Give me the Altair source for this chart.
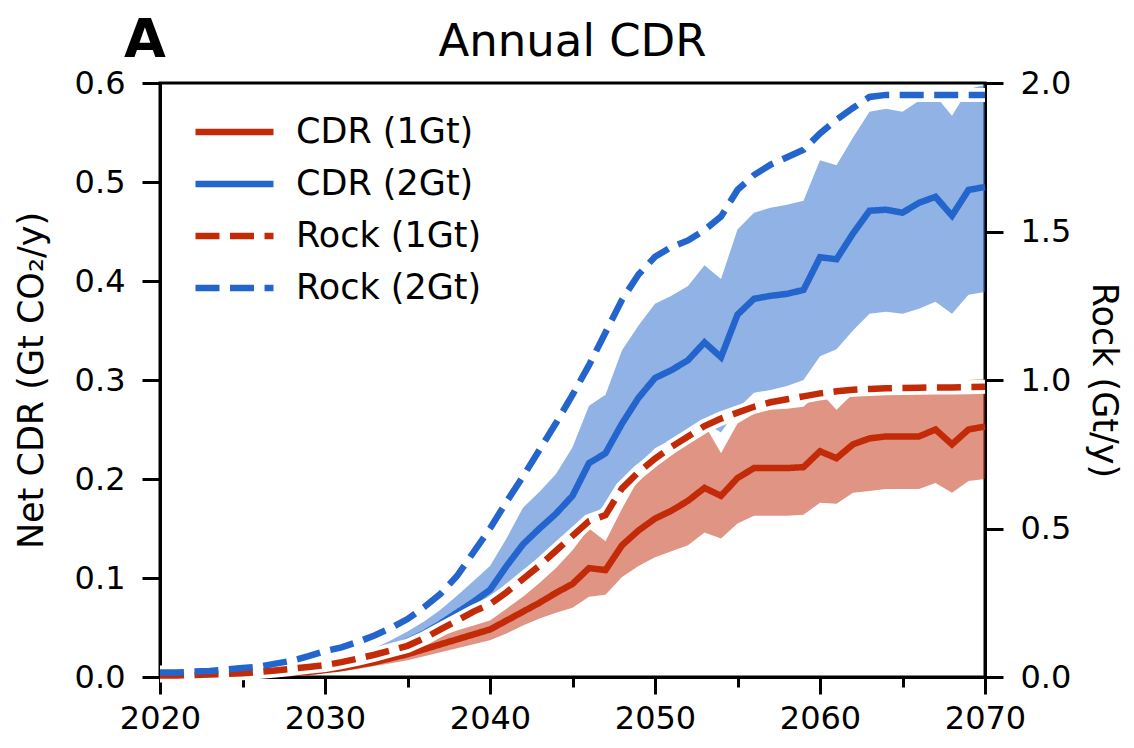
import altair as alt
import pandas as pd

years = list(range(2020, 2071))

cdr_1gt = [0.001, 0.001, 0.001, 0.001, 0.002, 0.002, 0.003, 0.003, 0.004, 0.005,
           0.007, 0.009, 0.012, 0.015, 0.019, 0.023, 0.028, 0.033, 0.038, 0.043,
           0.048, 0.057, 0.066, 0.075, 0.085, 0.094, 0.110, 0.108, 0.133, 0.148,
           0.160, 0.168, 0.178, 0.191, 0.183, 0.201, 0.211, 0.211, 0.211, 0.212,
           0.228, 0.221, 0.235, 0.241, 0.243, 0.243, 0.243, 0.250, 0.235, 0.250,
           0.253]
cdr_1gt_lo = [0.000, 0.000, 0.000, 0.000, 0.001, 0.001, 0.001, 0.002, 0.002, 0.003,
              0.004, 0.006, 0.008, 0.011, 0.014, 0.017, 0.021, 0.025, 0.029, 0.033,
              0.037, 0.044, 0.052, 0.059, 0.065, 0.070, 0.081, 0.083, 0.101, 0.112,
              0.121, 0.127, 0.133, 0.146, 0.140, 0.155, 0.163, 0.163, 0.163, 0.164,
              0.176, 0.175, 0.186, 0.188, 0.190, 0.190, 0.190, 0.196, 0.186, 0.198,
              0.200]
cdr_1gt_hi = [0.002, 0.002, 0.002, 0.002, 0.003, 0.003, 0.004, 0.005, 0.006, 0.007,
              0.009, 0.012, 0.015, 0.019, 0.024, 0.029, 0.035, 0.041, 0.047, 0.052,
              0.057, 0.069, 0.081, 0.095, 0.110, 0.128, 0.150, 0.137, 0.170, 0.200,
              0.223, 0.236, 0.246, 0.255, 0.226, 0.256, 0.266, 0.270, 0.271, 0.273,
              0.288, 0.270, 0.286, 0.293, 0.294, 0.293, 0.294, 0.298, 0.286, 0.300,
              0.301]
cdr_2gt = [0.004, 0.004, 0.004, 0.004, 0.004, 0.005, 0.005, 0.006, 0.007, 0.009,
           0.011, 0.014, 0.018, 0.023, 0.029, 0.036, 0.044, 0.054, 0.065, 0.076,
           0.088, 0.112, 0.134, 0.150, 0.165, 0.183, 0.216, 0.226, 0.256, 0.282,
           0.302, 0.310, 0.320, 0.338, 0.323, 0.366, 0.382, 0.385, 0.387, 0.391,
           0.424, 0.422, 0.448, 0.471, 0.472, 0.469, 0.479, 0.485, 0.466, 0.492,
           0.495]
cdr_2gt_lo = [0.003, 0.003, 0.003, 0.003, 0.003, 0.004, 0.004, 0.005, 0.005, 0.007,
              0.008, 0.011, 0.014, 0.018, 0.023, 0.028, 0.035, 0.043, 0.052, 0.061,
              0.070, 0.086, 0.102, 0.115, 0.127, 0.141, 0.160, 0.174, 0.195, 0.215,
              0.231, 0.240, 0.248, 0.257, 0.247, 0.271, 0.287, 0.290, 0.294, 0.300,
              0.324, 0.331, 0.350, 0.367, 0.369, 0.367, 0.372, 0.379, 0.367, 0.386,
              0.389]
cdr_2gt_hi = [0.005, 0.005, 0.005, 0.005, 0.005, 0.006, 0.006, 0.007, 0.009, 0.011,
              0.014, 0.018, 0.023, 0.029, 0.037, 0.046, 0.056, 0.068, 0.082, 0.097,
              0.112, 0.140, 0.171, 0.187, 0.205, 0.232, 0.274, 0.285, 0.330, 0.355,
              0.377, 0.385, 0.395, 0.416, 0.402, 0.452, 0.469, 0.474, 0.477, 0.481,
              0.522, 0.517, 0.545, 0.571, 0.574, 0.571, 0.582, 0.587, 0.567, 0.594,
              0.598]
rock_1gt = [0.005, 0.005, 0.007, 0.008, 0.010, 0.013, 0.017, 0.022, 0.028, 0.034,
            0.040, 0.050, 0.062, 0.075, 0.090, 0.105, 0.130, 0.160, 0.190, 0.220,
            0.245, 0.285, 0.330, 0.375, 0.425, 0.475, 0.525, 0.545, 0.635, 0.690,
            0.735, 0.775, 0.810, 0.845, 0.870, 0.890, 0.910, 0.925, 0.935, 0.945,
            0.955, 0.962, 0.967, 0.970, 0.972, 0.973, 0.974, 0.975, 0.975, 0.976,
            0.977]
rock_2gt = [0.015, 0.015, 0.018, 0.020, 0.025, 0.030, 0.035, 0.045, 0.055, 0.070,
            0.087, 0.100, 0.118, 0.140, 0.165, 0.195, 0.235, 0.280, 0.340, 0.420,
            0.500, 0.590, 0.675, 0.765, 0.855, 0.950, 1.050, 1.160, 1.270, 1.355,
            1.415, 1.448, 1.470, 1.505, 1.550, 1.640, 1.690, 1.725, 1.750, 1.775,
            1.830, 1.876, 1.916, 1.953, 1.960, 1.960, 1.960, 1.960, 1.960, 1.960,
            1.960]

series_names = ["CDR (1Gt)", "CDR (2Gt)", "Rock (1Gt)", "Rock (2Gt)"]
x_major = [2020, 2030, 2040, 2050, 2060, 2070]
x_minor = [2025, 2035, 2045, 2055, 2065]
y_left_ticks = [0.0, 0.1, 0.2, 0.3, 0.4, 0.5, 0.6]
y_right_ticks = [0.0, 0.5, 1.0, 1.5, 2.0]
chart_title = "Annual CDR"
panel_letter = "A"

RED = "#c22a08"
BLUE = "#2365cc"
FONT = "DejaVu Sans"
W, H = 825, 594

bands = pd.DataFrame({
    "year": years,
    "lo1": cdr_1gt_lo, "hi1": cdr_1gt_hi,
    "lo2": cdr_2gt_lo, "hi2": cdr_2gt_hi,
})
cdr_long = pd.DataFrame({
    "year": years * 2,
    "value": cdr_1gt + cdr_2gt,
    "series": [series_names[0]] * len(years) + [series_names[1]] * len(years),
})
rock_long = pd.DataFrame({
    "year": years * 2,
    "value": rock_1gt + rock_2gt,
    "series": [series_names[2]] * len(years) + [series_names[3]] * len(years),
})

x_scale = alt.Scale(domain=[2020, 2070], nice=False, zero=False)
y_cdr_scale = alt.Scale(domain=[0, 0.6], nice=False)
y_rock_scale = alt.Scale(domain=[0, 2.0], nice=False)

common_axis = dict(grid=False, tickColor="black", domainColor="black",
                   labelColor="black", titleColor="black", tickWidth=3,
                   domainWidth=3, labelFont=FONT, titleFont=FONT)

major_x_axis = alt.Axis(values=x_major, format="d", orient="bottom",
                        labelFontSize=32, labelPadding=9, tickSize=17,
                        title=None, labelFlush=False, labelOverlap=False,
                        **common_axis)
minor_x_axis = alt.Axis(values=x_minor, orient="bottom", labels=False,
                        tickSize=10, domain=False, title=None, grid=False,
                        tickColor="black", tickWidth=3)
left_axis = alt.Axis(values=y_left_ticks, format=".1f", orient="left",
                     title="Net CDR (Gt CO₂/y)", titleFontSize=35,
                     titleFontWeight="normal", titlePadding=25,
                     labelFontSize=32, labelPadding=17, tickSize=18,
                     **common_axis)
right_axis = alt.Axis(values=y_right_ticks, format=".1f", orient="right",
                      title="Rock (Gt/y)", titleFontSize=35,
                      titleFontWeight="normal", titlePadding=15,
                      labelFontSize=32, labelPadding=17, tickSize=18,
                      **common_axis)

color_scale = alt.Scale(domain=series_names, range=[RED, BLUE, RED, BLUE])
dash_scale = alt.Scale(domain=series_names,
                       range=[[1, 0], [1, 0], [24, 10.5], [24, 10.5]])
legend = alt.Legend(title=None, orient="none", legendX=32, legendY=29,
                    symbolType="stroke", symbolSize=6084, symbolStrokeWidth=6.5,
                    labelFontSize=35, labelOffset=19, clipHeight=40,
                    rowPadding=12, padding=0, labelColor="black", labelFont=FONT,
                    labelLimit=400)

band_red = alt.Chart(bands).mark_area(color=RED, opacity=0.5).encode(
    x=alt.X("year:Q", scale=x_scale, axis=major_x_axis),
    y=alt.Y("lo1:Q", scale=y_cdr_scale, axis=left_axis),
    y2="hi1:Q",
)
band_blue = alt.Chart(bands).mark_area(color=BLUE, opacity=0.5).encode(
    x=alt.X("year:Q", scale=x_scale, axis=None),
    y=alt.Y("lo2:Q", scale=y_cdr_scale, axis=None),
    y2="hi2:Q",
)
cdr_lines = alt.Chart(cdr_long).mark_line(strokeWidth=6.5).encode(
    x=alt.X("year:Q", scale=x_scale, axis=None),
    y=alt.Y("value:Q", scale=y_cdr_scale, axis=None),
    color=alt.Color("series:N", scale=color_scale, legend=legend),
    strokeDash=alt.StrokeDash("series:N", scale=dash_scale, legend=legend),
)
halo = alt.Chart(rock_long).mark_line(color="white", strokeWidth=14).encode(
    x=alt.X("year:Q", scale=x_scale, axis=minor_x_axis),
    y=alt.Y("value:Q", scale=y_rock_scale, axis=None),
    detail="series:N",
)
rock_lines = alt.Chart(rock_long).mark_line(strokeWidth=6.5).encode(
    x=alt.X("year:Q", scale=x_scale, axis=None),
    y=alt.Y("value:Q", scale=y_rock_scale, axis=right_axis),
    color=alt.Color("series:N", scale=color_scale, legend=legend),
    strokeDash=alt.StrokeDash("series:N", scale=dash_scale, legend=legend),
)
panel_label = alt.Chart(pd.DataFrame({"label": [panel_letter]})).mark_text(
    fontSize=54, fontWeight="bold", align="left", baseline="alphabetic",
    font=FONT, color="black",
).encode(text="label:N", x=alt.value(-36), y=alt.value(-26))
title_text = alt.Chart(pd.DataFrame({"label": [chart_title]})).mark_text(
    fontSize=45, fontWeight="normal", align="center", baseline="alphabetic",
    font=FONT, color="black",
).encode(text="label:N", x=alt.value(W / 2), y=alt.value(-27))

chart = alt.layer(
    band_red, band_blue, cdr_lines, halo, rock_lines, panel_label, title_text
).resolve_scale(
    x="independent", y="independent", color="shared", strokeDash="shared"
).resolve_axis(
    x="independent", y="independent"
).properties(
    width=W, height=H,
    autosize=alt.AutoSizeParams(type="none"),
    padding={"left": 152, "top": 75, "right": 141, "bottom": 58},
).configure(
    font=FONT
).configure_view(
    stroke="black", strokeWidth=3
)

chart.save("out.html", embed_options={"renderer": "svg", "actions": False})
